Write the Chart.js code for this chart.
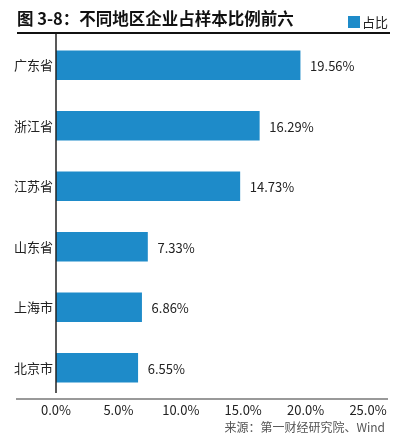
<!DOCTYPE html>
<html><head><meta charset="utf-8">
<script src="https://cdn.jsdelivr.net/npm/chart.js@4/dist/chart.umd.min.js"></script>
<style>
html,body{margin:0;padding:0;background:#fff;}
#wrap{position:relative;width:403px;height:439px;font-family:"Noto Sans CJK SC","Noto Sans",sans-serif;}
#c{position:absolute;left:0;top:0;}
#title{position:absolute;left:17px;top:6px;font-size:16.5px;font-weight:bold;color:#111;white-space:nowrap;}
#rule{position:absolute;left:17px;top:32px;width:373px;height:1.5px;background:#111;}
#legend{position:absolute;left:348px;top:12px;font-size:13px;color:#222;white-space:nowrap;display:flex;align-items:center;}
#legend span.box{display:inline-block;width:12px;height:12px;background:#1E8BC9;margin-right:2px;}
#source{position:absolute;right:18px;top:418px;font-size:12px;color:#555;white-space:nowrap;}
</style></head>
<body>
<div id="wrap">
<canvas id="c" width="403" height="439"></canvas>
<div id="title">图 3-8：不同地区企业占样本比例前六</div>
<div id="rule"></div>
<div id="legend"><span class="box"></span><span id="legtxt"></span></div>
<div id="source">来源：第一财经研究院、Wind</div>
</div>
<script>
const categories = ["广东省","浙江省","江苏省","山东省","上海市","北京市"];
const shareValues = [19.56, 16.29, 14.73, 7.33, 6.86, 6.55];
const seriesName = "占比";
const xTicks = [0, 5, 10, 15, 20, 25];

document.getElementById('legtxt').textContent = seriesName;

const barColor = '#1E8BC9';

const decorPlugin = {
  id: 'decor',
  afterDatasetsDraw(chart) {
    const ctx = chart.ctx;
    const meta = chart.getDatasetMeta(0);
    const ca = chart.chartArea;
    ctx.save();
    // value labels
    ctx.font = '13px "Noto Sans CJK SC","Noto Sans",sans-serif';
    ctx.fillStyle = '#222';
    ctx.textAlign = 'left';
    ctx.textBaseline = 'middle';
    meta.data.forEach((bar, i) => {
      ctx.fillText(shareValues[i].toFixed(2) + '%', bar.x + 10, bar.y + 1);
    });
    // y axis line
    ctx.strokeStyle = '#222';
    ctx.lineWidth = 1.5;
    ctx.beginPath();
    ctx.moveTo(ca.left, ca.top - 1);
    ctx.lineTo(ca.left, ca.bottom - 5);
    ctx.stroke();
    // x axis line (extends beyond)
    ctx.strokeStyle = '#777';
    ctx.lineWidth = 1.5;
    ctx.beginPath();
    ctx.moveTo(16, ca.bottom + 1);
    ctx.lineTo(388, ca.bottom + 1);
    ctx.stroke();
    ctx.restore();
  }
};

new Chart(document.getElementById('c'), {
  type: 'bar',
  data: {
    labels: categories,
    datasets: [{
      label: seriesName,
      data: shareValues,
      backgroundColor: barColor,
      borderWidth: 0,
      barThickness: 29
    }]
  },
  options: {
    indexAxis: 'y',
    responsive: false,
    animation: false,
    layout: { padding: { left: 0, right: 35, top: 35, bottom: 14 } },
    plugins: { legend: { display: false }, tooltip: { enabled: false } },
    scales: {
      x: {
        min: 0, max: 25,
        afterBuildTicks(scale) { scale.ticks = xTicks.map(v => ({ value: v })); },
        ticks: {
          callback: v => Number(v).toFixed(1) + '%',
          color: '#222',
          font: { size: 13, family: '"Noto Sans CJK SC","Noto Sans",sans-serif' },
          padding: 4,
          maxRotation: 0
        },
        grid: { display: false, drawTicks: false },
        border: { display: false },
        afterFit(scale) { scale.height = 27; }
      },
      y: {
        ticks: {
          color: '#222',
          font: { size: 13, family: '"Noto Sans CJK SC","Noto Sans",sans-serif' },
          padding: 3
        },
        grid: { display: false, drawTicks: false },
        border: { display: false },
        afterFit(scale) { scale.width = 56; }
      }
    }
  },
  plugins: [decorPlugin]
});
</script>
</body></html>
